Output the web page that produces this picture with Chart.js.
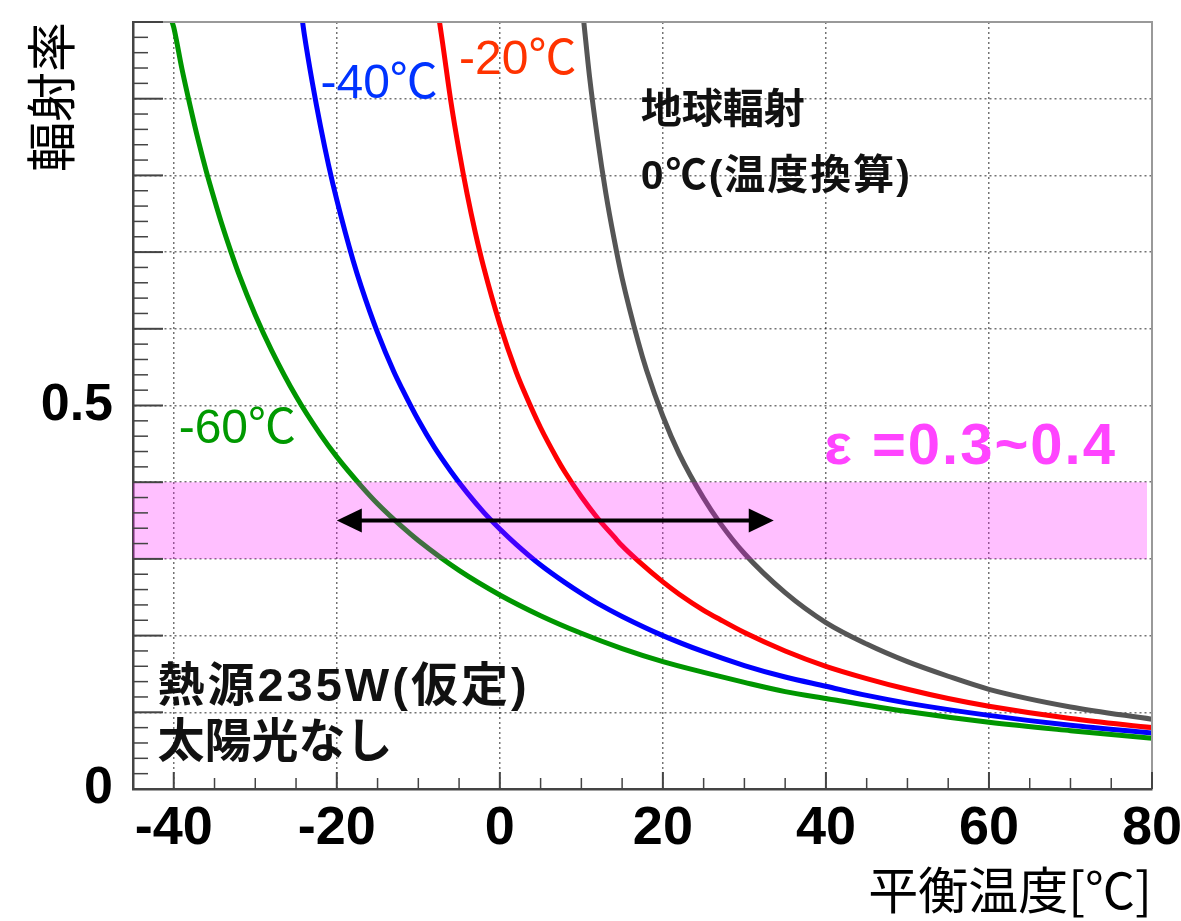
<!DOCTYPE html>
<html lang="ja">
<head>
<meta charset="utf-8">
<title>輻射率と平衡温度</title>
<script src="https://cdn.jsdelivr.net/npm/chart.js@4.4.1/dist/chart.umd.min.js"></script>
<style>
  html, body { margin: 0; padding: 0; background: #fff; }
  #wrap { width: 1181px; height: 921px; }
</style>
</head>
<body>
<div id="wrap"><canvas id="chart"></canvas></div>
<script>
// 周囲温度ごとの曲線（平衡温度[℃] と 輻射率）
const greenTemp = [-40.2, -40, -39, -38, -37, -36, -35, -34, -33, -32, -30, -28, -25, -22, -20, -17, -15, -12, -10, -5, 0, 5, 10, 15, 20, 25, 30, 35, 40, 50, 60, 70, 80];
const greenEmis = [1.0, 0.993, 0.939, 0.891, 0.846, 0.805, 0.768, 0.733, 0.701, 0.671, 0.618, 0.572, 0.512, 0.462, 0.433, 0.395, 0.372, 0.342, 0.324, 0.285, 0.253, 0.226, 0.203, 0.183, 0.166, 0.152, 0.139, 0.127, 0.118, 0.101, 0.087, 0.076, 0.066];

const blueTemp = [-24.2, -24, -23, -22, -21, -20, -18, -17, -15, -13, -12, -10, -8, -6, -4, -2, 0, 2, 5, 8, 10, 12, 15, 20, 25, 30, 35, 40, 45, 50, 60, 70, 80];
const blueEmis = [1.0, 0.985, 0.921, 0.864, 0.813, 0.768, 0.689, 0.655, 0.595, 0.544, 0.522, 0.481, 0.445, 0.414, 0.386, 0.361, 0.339, 0.319, 0.292, 0.269, 0.255, 0.242, 0.225, 0.200, 0.179, 0.161, 0.146, 0.134, 0.122, 0.112, 0.096, 0.083, 0.073];

const redTemp = [-7.4, -7, -6, -5, -4, -3, -2, 0, 2, 3, 5, 7, 8, 10, 12, 14, 15, 17, 20, 22, 25, 27, 30, 35, 40, 45, 50, 55, 60, 70, 80];
const redEmis = [1.0, 0.971, 0.896, 0.832, 0.775, 0.725, 0.681, 0.606, 0.544, 0.518, 0.471, 0.431, 0.413, 0.381, 0.353, 0.329, 0.317, 0.297, 0.270, 0.254, 0.233, 0.221, 0.204, 0.180, 0.160, 0.144, 0.130, 0.118, 0.108, 0.092, 0.080];

const grayTemp = [10.3, 11, 12, 13, 14, 15, 17, 18, 20, 22, 25, 27, 30, 35, 40, 45, 50, 55, 60, 70, 80];
const grayEmis = [1.0, 0.929, 0.847, 0.777, 0.718, 0.666, 0.582, 0.546, 0.486, 0.437, 0.379, 0.347, 0.307, 0.256, 0.217, 0.189, 0.166, 0.147, 0.130, 0.107, 0.091];

// 目盛り
const xTickValues = [-40, -20, 0, 20, 40, 60, 80];
const yTickValues = [0, 0.1, 0.2, 0.3, 0.4, 0.5, 0.6, 0.7, 0.8, 0.9, 1.0];
const yTickLabels = ["0", "", "", "", "", "0.5", "", "", "", "", ""];

// ε=0.3~0.4 の帯と矢印
const bandTemp = [-45, 79.4];
const bandLow = 0.3;
const bandHigh = 0.4;
const arrowTemp = [-20, 33.6];
const arrowEmis = 0.35;

const LATIN = '"Liberation Sans", "Noto Sans CJK JP", sans-serif';
const CJK = '"Noto Sans CJK JP", sans-serif';

// 注記（データ座標に置く）
const notes = [
    { text: "-60℃", x: -39.4, y: 0.469, color: "#009900", font: "48px " + LATIN, spacing: "0px" },
    { text: "-40℃", x: -22.0, y: 0.918, color: "#0033ff", font: "48px " + LATIN, spacing: "0px" },
    { text: "-20℃", x: -5.0, y: 0.949, color: "#ff3300", font: "48px " + LATIN, spacing: "0px" },
    { text: "地球輻射", x: 17.3, y: 0.883, color: "#111", font: "bold 41px " + LATIN, spacing: "0px" },
    { text: "0℃(温度換算)", x: 17.3, y: 0.797, color: "#111", font: "bold 41px " + LATIN, spacing: "2px" },
    { text: "ε =0.3~0.4", x: 39.8, y: 0.445, color: "#ff44ff", font: "bold 58px " + LATIN, spacing: "2px" },
    { text: "熱源235W(仮定)", x: -42.0, y: 0.132, color: "#111", font: "bold 47px " + LATIN, spacing: "3px" },
    { text: "太陽光なし", x: -42.0, y: 0.059, color: "#111", font: "bold 47px " + LATIN, spacing: "0px" },
];

const toPoints = (xs, ys) => xs.map((t, i) => ({ x: t, y: ys[i] }));

const curve = (label, xs, ys, color) => ({
    label,
    data: toPoints(xs, ys),
    borderColor: color,
    borderWidth: 5,
    pointRadius: 0,
    cubicInterpolationMode: "monotone",
    fill: false,
    order: 2,
});

// 枠・内向き目盛り・矢印・注記
const decorations = {
    id: "decorations",
    afterDatasetsDraw(chart) {
        const { ctx, chartArea: a, scales: { x, y } } = chart;
        ctx.save();

        ctx.strokeStyle = "#999";
        ctx.lineWidth = 2;
        ctx.beginPath();
        ctx.moveTo(a.left, a.top);
        ctx.lineTo(a.right, a.top);
        ctx.lineTo(a.right, a.bottom);
        ctx.stroke();

        ctx.strokeStyle = "#444";
        for (let k = 0; k <= 50; k++) {
            const py = y.getPixelForValue(k * 0.02);
            const major = k % 5 === 0;
            ctx.lineWidth = major ? 2 : 1.5;
            ctx.beginPath();
            ctx.moveTo(a.left, py);
            ctx.lineTo(a.left + (major ? 30 : 15), py);
            ctx.stroke();
        }
        for (let v = -45; v <= 80; v += 5) {
            const px = x.getPixelForValue(v);
            const major = v % 20 === 0;
            ctx.lineWidth = major ? 2 : 1.5;
            ctx.beginPath();
            ctx.moveTo(px, a.bottom);
            ctx.lineTo(px, a.bottom - (major ? 17 : 11));
            ctx.stroke();
        }

        // 両矢印
        const ay = y.getPixelForValue(arrowEmis);
        const x1 = x.getPixelForValue(arrowTemp[0]);
        const x2 = x.getPixelForValue(arrowTemp[1]);
        const head = 25, half = 12;
        ctx.strokeStyle = "#000";
        ctx.fillStyle = "#000";
        ctx.lineWidth = 4;
        ctx.beginPath();
        ctx.moveTo(x1 + head - 2, ay);
        ctx.lineTo(x2 - head + 2, ay);
        ctx.stroke();
        ctx.beginPath();
        ctx.moveTo(x1, ay);
        ctx.lineTo(x1 + head, ay - half);
        ctx.lineTo(x1 + head, ay + half);
        ctx.closePath();
        ctx.fill();
        ctx.beginPath();
        ctx.moveTo(x2, ay);
        ctx.lineTo(x2 - head, ay - half);
        ctx.lineTo(x2 - head, ay + half);
        ctx.closePath();
        ctx.fill();

        ctx.textAlign = "left";
        ctx.textBaseline = "middle";
        notes.forEach(n => {
            ctx.font = n.font;
            ctx.letterSpacing = n.spacing;
            ctx.fillStyle = n.color;
            ctx.fillText(n.text, x.getPixelForValue(n.x), y.getPixelForValue(n.y));
        });
        ctx.letterSpacing = "0px";

        ctx.restore();
    },
};

new Chart(document.getElementById("chart"), {
    type: "line",
    data: {
        datasets: [
            curve("-60℃", greenTemp, greenEmis, "#009600"),
            curve("-40℃", blueTemp, blueEmis, "#0000ff"),
            curve("-20℃", redTemp, redEmis, "#ff0000"),
            curve("0℃", grayTemp, grayEmis, "#555555"),
            {
                label: "bandHigh",
                data: toPoints(bandTemp, bandTemp.map(() => bandHigh)),
                borderColor: "rgba(0,0,0,0)",
                borderWidth: 0,
                pointRadius: 0,
                fill: false,
                order: 1,
            },
            {
                label: "bandLow",
                data: toPoints(bandTemp, bandTemp.map(() => bandLow)),
                borderColor: "rgba(0,0,0,0)",
                borderWidth: 0,
                pointRadius: 0,
                fill: "-1",
                backgroundColor: "rgba(255,0,255,0.25)",
                order: 1,
            },
        ],
    },
    options: {
        responsive: true,
        maintainAspectRatio: false,
        animation: false,
        events: [],
        layout: { padding: { top: 22, right: 29, left: 0, bottom: 0 } },
        plugins: {
            legend: { display: false },
            tooltip: { enabled: false },
            filler: { drawTime: "beforeDatasetDraw" },
        },
        scales: {
            x: {
                type: "linear",
                min: -45,
                max: 80,
                afterBuildTicks: s => { s.ticks = xTickValues.map(v => ({ value: v })); },
                afterFit: s => { s.height = 132; s.paddingLeft = 0; s.paddingRight = 0; },
                ticks: {
                    autoSkip: false,
                    maxRotation: 0,
                    padding: 8,
                    color: "#000",
                    font: { family: LATIN, size: 54, weight: "bold" },
                },
                grid: { color: "rgba(0,0,0,0.55)", lineWidth: 1.5, drawTicks: false },
                border: { display: true, color: "#444", width: 2.5, dash: [2, 3] },
                title: {
                    display: true,
                    text: "平衡温度[℃]",
                    align: "end",
                    color: "#000",
                    padding: { top: 0, bottom: 1 },
                    font: { family: CJK, size: 50, weight: "normal" },
                },
            },
            y: {
                type: "linear",
                min: 0,
                max: 1,
                afterBuildTicks: s => { s.ticks = yTickValues.map(v => ({ value: v })); },
                afterFit: s => { s.width = 133; s.paddingTop = 0; s.paddingBottom = 0; },
                ticks: {
                    autoSkip: false,
                    padding: 20,
                    color: "#000",
                    font: { family: LATIN, size: 52, weight: "bold" },
                    callback: (v, i) => yTickLabels[i],
                },
                grid: { color: "rgba(0,0,0,0.55)", lineWidth: 1.5, drawTicks: false },
                border: { display: true, color: "#444", width: 2.5, dash: [2, 3] },
                title: {
                    display: true,
                    text: "輻射率",
                    align: "end",
                    color: "#000",
                    padding: { top: 21, bottom: 0 },
                    font: { family: CJK, size: 50, weight: "normal" },
                },
            },
        },
    },
    plugins: [decorations],
});
</script>
</body>
</html>
